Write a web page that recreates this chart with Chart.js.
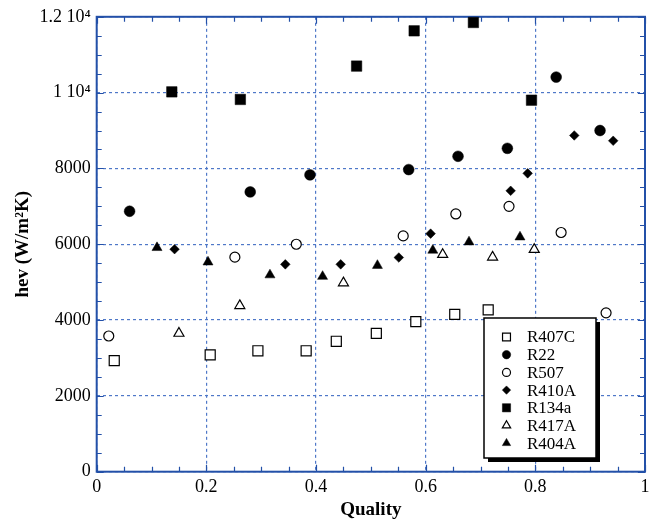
<!DOCTYPE html>
<html lang="en">
<head>
  <meta charset="UTF-8">
  <title>hev vs Quality</title>
  <script src="https://cdn.jsdelivr.net/npm/chart.js"></script>
  <style>
    body { margin: 0; background: #fff; }
  </style>
</head>
<body>
<canvas id="hevChart" width="656" height="523"></canvas>

<script>
// data
const seriesNames = ["R407C", "R22", "R507", "R410A", "R134a", "R417A", "R404A"];

const r407cQ = [0.032, 0.207, 0.294, 0.382, 0.437, 0.510, 0.582, 0.653, 0.714];
const r407cH = [2930, 3080, 3190, 3190, 3440, 3650, 3960, 4150, 4270];

const r22Q = [0.060, 0.280, 0.389, 0.569, 0.659, 0.749, 0.838, 0.918];
const r22H = [6870, 7380, 7830, 7970, 8320, 8530, 10410, 9000];

const r507Q = [0.022, 0.252, 0.364, 0.559, 0.655, 0.752, 0.847, 0.929];
const r507H = [3580, 5660, 6000, 6220, 6800, 7000, 6310, 4190];

const r410aQ = [0.142, 0.344, 0.445, 0.551, 0.609, 0.755, 0.786, 0.871, 0.942];
const r410aH = [5870, 5470, 5470, 5650, 6280, 7410, 7870, 8870, 8730];

const r134aQ = [0.137, 0.262, 0.474, 0.579, 0.687, 0.793];
const r134aH = [10020, 9820, 10700, 11630, 11850, 9800];

const r417aQ = [0.150, 0.261, 0.450, 0.631, 0.722, 0.798];
const r417aH = [3650, 4380, 4980, 5730, 5660, 5860];

const r404aQ = [0.110, 0.203, 0.316, 0.412, 0.512, 0.613, 0.679, 0.772];
const r404aH = [5910, 5530, 5190, 5150, 5440, 5840, 6060, 6190];

const xTicks = [0, 0.2, 0.4, 0.6, 0.8, 1];
const yTickLabels = {0: "0", 2000: "2000", 4000: "4000", 6000: "6000", 8000: "8000", 10000: "1 10\u2074", 12000: "1.2 10\u2074"};

const SERIF = "'Liberation Serif', 'Times New Roman', serif";
const AXIS_BLUE = "#2350a8";
const GRID_BLUE = "#4f78c8";

function pts(q, h) {
  return q.map((v, i) => ({x: v, y: h[i]}));
}

// style per series: [pointStyle, radius, filled]
const styles = {
  R407C: ["rect", 7.1, false],
  R22: ["circle", 5.4, true],
  R507: ["circle", 5, false],
  R410A: ["rectRot", 4.8, true],
  R134a: ["rect", 7.4, true],
  R417A: ["triangle", 5.8, false],
  R404A: ["triangle", 5.8, true]
};
const legendRadius = {R407C: 5.6, R22: 4.2, R507: 4, R410A: 4.2, R134a: 5.8, R417A: 4.8, R404A: 4.8};

const allData = {
  R407C: pts(r407cQ, r407cH),
  R22: pts(r22Q, r22H),
  R507: pts(r507Q, r507H),
  R410A: pts(r410aQ, r410aH),
  R134a: pts(r134aQ, r134aH),
  R417A: pts(r417aQ, r417aH),
  R404A: pts(r404aQ, r404aH)
};

const datasets = seriesNames.map(name => {
  const [ps, r, filled] = styles[name];
  return {
    label: name,
    data: allData[name],
    pointStyle: ps,
    pointRadius: r,
    pointHoverRadius: r,
    pointBackgroundColor: filled ? "#000" : "#fff",
    pointBorderColor: "#000",
    pointBorderWidth: filled ? 0.5 : 1.2,
    clip: false
  };
});

// frame + inward ticks on all four sides
const framePlugin = {
  id: "frame",
  beforeDatasetsDraw(chart) {
    const {ctx, chartArea: a, scales: {x, y}} = chart;
    ctx.save();
    ctx.strokeStyle = AXIS_BLUE;
    ctx.lineWidth = 1.2;
    ctx.beginPath();
    for (let v = 0; v <= 1.0001; v += 0.05) {
      const px = Math.round(x.getPixelForValue(v)) + 0.5;
      const len = Math.abs(v / 0.2 - Math.round(v / 0.2)) < 0.01 ? 7 : 5;
      ctx.moveTo(px, a.bottom); ctx.lineTo(px, a.bottom - len);
      ctx.moveTo(px, a.top); ctx.lineTo(px, a.top + len);
    }
    for (let v = 0; v <= 12000; v += 500) {
      const py = Math.round(y.getPixelForValue(v)) + 0.5;
      const len = v % 2000 === 0 ? 7 : 5;
      ctx.moveTo(a.left, py); ctx.lineTo(a.left + len, py);
      ctx.moveTo(a.right, py); ctx.lineTo(a.right - len, py);
    }
    ctx.stroke();
    ctx.lineWidth = 2;
    ctx.strokeRect(a.left, a.top, a.right - a.left, a.bottom - a.top);
    ctx.restore();
  }
};

// boxed legend with drop shadow
const boxLegend = {
  id: "boxLegend",
  afterDatasetsDraw(chart) {
    const ctx = chart.ctx;
    const bx = 484, by = 318, bw = 112, bh = 140;
    ctx.save();
    ctx.fillStyle = "#000";
    ctx.fillRect(bx + 4, by + 4, bw, bh);
    ctx.fillStyle = "#fff";
    ctx.fillRect(bx, by, bw, bh);
    ctx.strokeStyle = "#000";
    ctx.lineWidth = 1.5;
    ctx.strokeRect(bx, by, bw, bh);

    ctx.font = "17px " + SERIF;
    ctx.textBaseline = "middle";
    ctx.textAlign = "left";
    seriesNames.forEach((name, i) => {
      const [ps, , filled] = styles[name];
      const cy = 337 + i * 17.7;
      ctx.fillStyle = filled ? "#000" : "#fff";
      ctx.strokeStyle = "#000";
      const opts = {pointStyle: ps, rotation: 0, radius: legendRadius[name], borderWidth: filled ? 0.5 : 1.2};
      ctx.lineWidth = opts.borderWidth;
      Chart.helpers.drawPoint(ctx, opts, 506.5, cy);
      ctx.fillStyle = "#000";
      ctx.fillText(name, 527, cy + 1);
    });
    ctx.restore();
  }
};

const ctx = document.getElementById("hevChart").getContext("2d");
new Chart(ctx, {
  type: "scatter",
  data: {datasets},
  plugins: [framePlugin, boxLegend],
  options: {
    responsive: false,
    animation: false,
    events: [],
    layout: {padding: {top: 15, right: 11, left: 0, bottom: 0}},
    plugins: {
      legend: {display: false},
      tooltip: {enabled: false}
    },
    scales: {
      x: {
        type: "linear",
        min: 0,
        max: 1,
        afterBuildTicks(scale) {
          scale.ticks = xTicks.map(v => ({value: v}));
        },
        afterFit(scale) { scale.height = 51.3; },
        ticks: {
          color: "#000",
          padding: 5,
          maxRotation: 0,
          font: {family: SERIF, size: 18},
          callback: v => String(v)
        },
        grid: {color: GRID_BLUE, lineWidth: 1.2, drawTicks: false},
        border: {display: false, dash: [3, 3]},
        title: {
          display: true,
          text: "Quality",
          color: "#000",
          font: {family: SERIF, size: 19, weight: "bold"},
          padding: {top: 0, bottom: 2}
        }
      },
      y: {
        type: "linear",
        min: 0,
        max: 12000,
        afterBuildTicks(scale) {
          scale.ticks = Object.keys(yTickLabels).map(v => ({value: Number(v)}));
        },
        afterFit(scale) { scale.width = 96.7; },
        ticks: {
          color: "#000",
          padding: 6,
          font: {family: SERIF, size: 18},
          callback: v => yTickLabels[v]
        },
        grid: {color: GRID_BLUE, lineWidth: 1.2, drawTicks: false},
        border: {display: false, dash: [3, 3]},
        title: {
          display: true,
          text: "hev (W/m\u00B2K)",
          color: "#000",
          font: {family: SERIF, size: 19, weight: "bold"},
          padding: {top: 12, bottom: 0}
        }
      }
    }
  }
});
</script>
</body>
</html>
